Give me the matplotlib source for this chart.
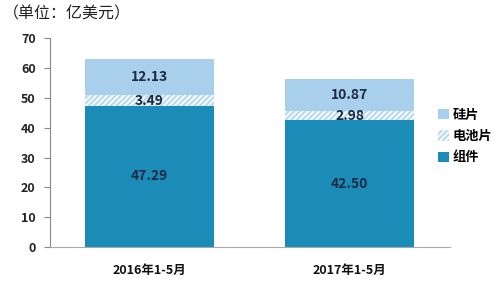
import matplotlib as mpl
mpl.use('Agg')
import matplotlib.pyplot as plt
import numpy as np

plt.rcParams['font.family'] = ['Noto Sans CJK SC', 'DejaVu Sans']
plt.rcParams['hatch.linewidth'] = 1.6

# data (亿美元)
periods = ["2016年1-5月", "2017年1-5月"]
modules = [47.29, 42.50]   # 组件
cells = [3.49, 2.98]       # 电池片
wafers = [12.13, 10.87]    # 硅片
yticks = [0, 10, 20, 30, 40, 50, 60, 70]

c_mod = '#1b8cb8'
c_waf = '#a8cfeb'
c_cell = '#b9dbef'
c_txt = '#1c2a45'

fig = plt.figure(figsize=(5.0, 2.86), dpi=100)
ax = fig.add_axes([0.099, 0.136, 0.80, 0.731])

x = np.arange(len(periods))
w = 0.645
b1 = ax.bar(x, modules, w, color=c_mod, linewidth=0, label='组件')
b2 = ax.bar(x, cells, w, bottom=modules, facecolor='white', edgecolor=c_cell,
            hatch='//////', linewidth=0, label='电池片')
bottom3 = np.array(modules) + np.array(cells)
b3 = ax.bar(x, wafers, w, bottom=bottom3, color=c_waf, linewidth=0, label='硅片')

for i in range(len(periods)):
    ax.text(x[i], modules[i] / 2, "{0:.2f}".format(modules[i]), ha='center', va='center',
            fontsize=10, fontweight='bold', color=c_txt)
    ax.text(x[i], modules[i] + cells[i] / 2, "{0:.2f}".format(cells[i]), ha='center', va='center',
            fontsize=10, fontweight='bold', color=c_txt)
    ax.text(x[i], bottom3[i] + wafers[i] / 2, "{0:.2f}".format(wafers[i]), ha='center', va='center',
            fontsize=10, fontweight='bold', color=c_txt)

ax.set_xlim(-0.5, 1.5)
ax.set_ylim(0, 70)
ax.set_yticks(yticks)
ax.set_yticklabels([str(v) for v in yticks], fontsize=9, fontweight='bold', color='#222222')
ax.set_xticks(x)
ax.set_xticklabels(periods, fontsize=9, fontweight='bold', color='#111111')
ax.tick_params(axis='x', length=0, pad=12)
ax.tick_params(axis='y', length=4, color='#888888', pad=6)
for s in ['top', 'right']:
    ax.spines[s].set_visible(False)
ax.spines['left'].set_color('#888888')
ax.spines['bottom'].set_color('#aaaaaa')

leg = fig.legend(handles=[b3, b2, b1], labels=['硅片', '电池片', '组件'],
                 loc='upper left', bbox_to_anchor=(0.855, 0.66), frameon=False,
                 handlelength=0.8, handleheight=0.8, handletextpad=0.3,
                 labelspacing=0.55, borderpad=0.3, prop={'weight': 'bold', 'size': 9.5})

fig.text(0.005, 0.95, "（单位：亿美元）", fontsize=11.5, va='center', ha='left', color='#222222')

fig.savefig('out.png', dpi=100)
